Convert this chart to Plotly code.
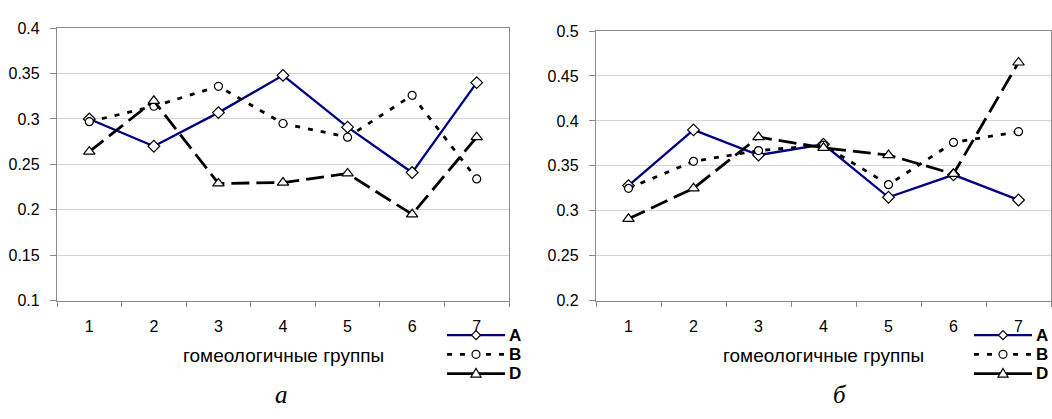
import plotly.graph_objects as go

# Homeologous groups 1..7
groups = [1, 2, 3, 4, 5, 6, 7]
group_labels = ["1", "2", "3", "4", "5", "6", "7"]

# Panel "а"
a_A = [0.300, 0.270, 0.307, 0.348, 0.291, 0.241, 0.340]
a_B = [0.297, 0.314, 0.336, 0.295, 0.280, 0.326, 0.234]
a_D = [0.264, 0.320, 0.229, 0.230, 0.240, 0.195, 0.280]

# Panel "б"
b_A = [0.328, 0.390, 0.362, 0.374, 0.315, 0.340, 0.312]
b_B = [0.325, 0.355, 0.367, 0.373, 0.329, 0.376, 0.388]
b_D = [0.291, 0.325, 0.382, 0.370, 0.362, 0.341, 0.465]

series_names = ["A", "B", "D"]

W, H = 1052, 419
FONT = "Liberation Sans, Arial, sans-serif"


def px(x):
    return x / W


def py(y):
    return 1 - y / H


styles = {
    "A": dict(line=dict(color="#000080", width=2.3, dash="solid"),
              marker=dict(symbol="diamond", size=9, color="white",
                          line=dict(color="black", width=1.2))),
    "B": dict(line=dict(color="black", width=2.8, dash="5px,8px"),
              marker=dict(symbol="circle", size=8, color="white",
                          line=dict(color="black", width=1.2))),
    "D": dict(line=dict(color="black", width=2.8, dash="18px,7px"),
              marker=dict(symbol="triangle-up", size=10, color="white",
                          line=dict(color="black", width=1.2))),
}

fig = go.Figure()

panels = [
    (dict(A=a_A, B=a_B, D=a_D), "x", "y"),
    (dict(A=b_A, B=b_B, D=b_D), "x2", "y2"),
]
for data, xa, ya in panels:
    for name in series_names:
        st = styles[name]
        fig.add_trace(go.Scatter(
            x=groups, y=data[name], name=name, mode="lines+markers",
            line=st["line"], marker=st["marker"],
            xaxis=xa, yaxis=ya, showlegend=False, cliponaxis=False,
        ))

# plot-area frames in pixels: (left, right, top, bottom)
frames = [(57, 509, 21, 305), (596, 1051, 24, 305)]
yranges = [(0.1, 0.4), (0.2, 0.5)]

common_x = dict(
    range=[0.5, 7.5], tickmode="array", tickvals=groups, ticktext=group_labels,
    ticks="", showgrid=False, zeroline=False,
    showline=True, linecolor="#8a8a8a", linewidth=1.3, mirror=True,
    tickfont=dict(family=FONT, size=16, color="black"),
    ticklabelstandoff=11,
    minor=dict(tickmode="array", tickvals=[g + 0.5 for g in [0] + groups],
               ticks="outside", ticklen=5, tickcolor="#8a8a8a", tickwidth=1,
               showgrid=False),
)
common_y = dict(
    dtick=0.05, tick0=0, ticks="outside", ticklen=6, tickcolor="#8a8a8a",
    showgrid=True, gridcolor="#d4d4d4", gridwidth=1, zeroline=False,
    showline=True, linecolor="#8a8a8a", linewidth=1.3, mirror=True,
    tickfont=dict(family=FONT, size=16, color="black"),
    ticklabelstandoff=7,
)

(l1, r1, t1, b1), (l2, r2, t2, b2) = frames
fig.update_layout(
    xaxis=dict(common_x, domain=[px(l1), px(r1)], anchor="y"),
    yaxis=dict(common_y, domain=[py(b1), py(t1)], range=list(yranges[0]), anchor="x"),
    xaxis2=dict(common_x, domain=[px(l2), px(r2)], anchor="y2"),
    yaxis2=dict(common_y, domain=[py(b2), py(t2)], range=list(yranges[1]), anchor="x2"),
)

annotations = []
shapes = []

# axis titles and panel captions
for (l, r, t, b), cap, cap_x in zip(frames, ["а", "б"], [281, 840]):
    cx = px((l + r) / 2)
    annotations.append(dict(
        text="гомеологичные группы", x=cx, y=py(362), xref="paper", yref="paper",
        showarrow=False, xanchor="center", yanchor="middle",
        font=dict(family=FONT, size=19, color="black")))
    annotations.append(dict(
        text=f"<i>{cap}</i>", x=px(cap_x), y=py(403), xref="paper", yref="paper",
        showarrow=False, xanchor="center", yanchor="middle",
        font=dict(family="Liberation Serif, Times New Roman, serif", size=25,
                  color="black")))

# hand-built legends next to each panel
diamond_path = "M -4.5 0 L 0 -4.5 L 4.5 0 L 0 4.5 Z"
triangle_path = "M -5 -3.5 L 0 5 L 5 -3.5 Z"
legend_rows = {"A": 341, "B": 361, "D": 381}
for x0 in (447, 974):
    x1 = x0 + 58
    xm = (x0 + x1) / 2
    for name in series_names:
        yy = legend_rows[name]
        st = styles[name]
        shapes.append(dict(
            type="line", xref="paper", yref="paper",
            x0=px(x0), x1=px(x1), y0=py(yy), y1=py(yy),
            line=dict(color=st["line"]["color"], width=st["line"]["width"],
                      dash="solid" if name == "D" else st["line"]["dash"])))
        common_shape = dict(
            xref="paper", yref="paper", xsizemode="pixel", ysizemode="pixel",
            xanchor=px(xm), yanchor=py(yy),
            fillcolor="white", line=dict(color="black", width=1.2))
        if name == "B":
            shapes.append(dict(common_shape, type="circle",
                               x0=-4, x1=4, y0=-4, y1=4))
        elif name == "A":
            shapes.append(dict(common_shape, type="path", path=diamond_path))
        else:
            shapes.append(dict(common_shape, type="path", path=triangle_path))
        annotations.append(dict(
            text=f"<b>{name}</b>", x=px(x1 + 2), y=py(yy), xref="paper",
            yref="paper", showarrow=False, xanchor="left", yanchor="middle",
            font=dict(family=FONT, size=17, color="black")))

fig.update_layout(
    width=W, height=H,
    margin=dict(l=0, r=0, t=0, b=0),
    paper_bgcolor="white", plot_bgcolor="white",
    showlegend=False,
    annotations=annotations,
    shapes=shapes,
)

fig.write_html("out.html")
